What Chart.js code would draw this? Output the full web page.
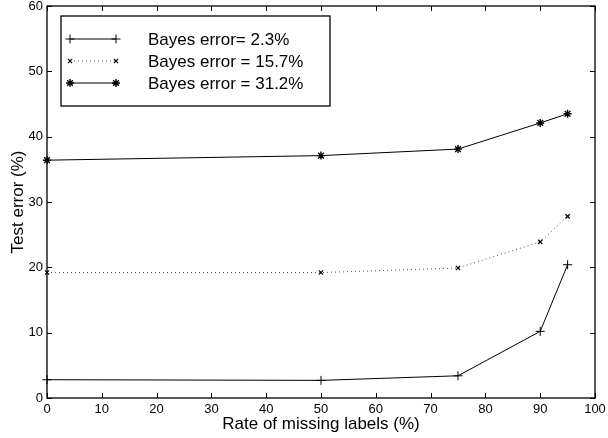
<!DOCTYPE html>
<html>
<head>
<meta charset="utf-8">
<script src="https://cdn.jsdelivr.net/npm/chart.js@4/dist/chart.umd.min.js"></script>
<style>
  html, body { margin: 0; padding: 0; background: #fff; }
  #wrap { width: 608px; height: 438px; }
</style>
</head>
<body>
<div id="wrap"><canvas id="c"></canvas></div>
<script>
// rate of missing labels (%)
const missingRates = [0, 50, 75, 90, 95]
const seriesLabels = ['Bayes error= 2.3%', 'Bayes error = 15.7%', 'Bayes error = 31.2%']
const bayes23 = [2.8, 2.7, 3.4, 10.2, 20.4]
const bayes157 = [19.2, 19.2, 19.9, 23.9, 27.8]
const bayes312 = [36.4, 37.1, 38.1, 42.1, 43.5]
const xTicks = [0, 10, 20, 30, 40, 50, 60, 70, 80, 90, 100]
const yTicks = [0, 10, 20, 30, 40, 50, 60]

const FONT = '"Liberation Sans", Arial, Helvetica, sans-serif'

function toPoints(ys) {
    return missingRates.map((x, i) => ({ x: x, y: ys[i] }))
}

// matlab style frame with inward ticks
const frame = {
    id: 'frame',
    afterDraw(chart) {
        const ctx = chart.ctx
        const a = chart.chartArea
        const xs = chart.scales.x, ys = chart.scales.y
        ctx.save()
        ctx.strokeStyle = '#000'
        ctx.lineWidth = 1.3
        ctx.strokeRect(a.left, a.top, a.right - a.left, a.bottom - a.top)
        ctx.lineWidth = 1
        ctx.beginPath()
        xTicks.forEach(v => {
            const px = Math.round(xs.getPixelForValue(v)) + 0.5
            ctx.moveTo(px, a.bottom); ctx.lineTo(px, a.bottom - 5)
            ctx.moveTo(px, a.top); ctx.lineTo(px, a.top + 5)
        })
        yTicks.forEach(v => {
            const py = Math.round(ys.getPixelForValue(v)) + 0.5
            ctx.moveTo(a.left, py); ctx.lineTo(a.left + 5, py)
            ctx.moveTo(a.right, py); ctx.lineTo(a.right - 5, py)
        })
        ctx.stroke()

        // legend box
        const bx = 61, by = 16, bw = 269, bh = 90
        ctx.fillStyle = '#fff'
        ctx.fillRect(bx, by, bw, bh)
        ctx.lineWidth = 1.3
        ctx.strokeRect(bx, by, bw, bh)
        chart.data.datasets.forEach((ds, i) => {
            const y = 39 + i * 22
            ctx.strokeStyle = ds.borderColor
            ctx.lineWidth = ds.borderWidth
            ctx.setLineDash(ds.borderDash || [])
            ctx.beginPath()
            ctx.moveTo(70, y); ctx.lineTo(116, y)
            ctx.stroke()
            ctx.setLineDash([])
            ctx.strokeStyle = '#000'
            ctx.fillStyle = '#000'
            ctx.lineWidth = ds.pointBorderWidth
            const opts = { pointStyle: ds.pointStyle, radius: ds.pointRadius, rotation: 0, borderWidth: ds.pointBorderWidth }
            Chart.helpers.drawPoint(ctx, opts, 70, y)
            Chart.helpers.drawPoint(ctx, opts, 116, y)
            ctx.fillStyle = '#000'
            ctx.font = '17px ' + FONT
            ctx.textBaseline = 'middle'
            ctx.textAlign = 'left'
            ctx.fillText(ds.label, 148, y + 1)
        })
        ctx.restore()
    }
}

function noPad(s) {
    s.paddingTop = 0; s.paddingBottom = 0; s.paddingLeft = 0; s.paddingRight = 0
}

new Chart(document.getElementById('c'), {
    type: 'line',
    data: {
        datasets: [
            { label: seriesLabels[0], data: toPoints(bayes23), borderColor: '#000', borderWidth: 1,
              pointStyle: 'cross', pointRadius: 4.5, pointBorderColor: '#000', pointBorderWidth: 1, clip: false },
            { label: seriesLabels[1], data: toPoints(bayes157), borderColor: '#555', borderWidth: 1, borderDash: [1, 3],
              pointStyle: 'crossRot', pointRadius: 3, pointBorderColor: '#000', pointBorderWidth: 1.2, clip: false },
            { label: seriesLabels[2], data: toPoints(bayes312), borderColor: '#000', borderWidth: 1,
              pointStyle: 'star', pointRadius: 4, pointBorderColor: '#000', pointBorderWidth: 1.4, clip: false }
        ]
    },
    options: {
        responsive: true,
        maintainAspectRatio: false,
        animation: false,
        layout: { padding: { top: 6, right: 13, left: 0, bottom: 0 } },
        plugins: { legend: { display: false }, tooltip: { enabled: false } },
        scales: {
            x: {
                type: 'linear', min: 0, max: 100,
                afterBuildTicks: s => { s.ticks = xTicks.map(v => ({ value: v })) },
                afterFit: s => { s.height = 40; noPad(s) },
                grid: { display: false, drawTicks: false }, border: { display: false },
                ticks: { color: '#000', padding: 4, font: { family: FONT, size: 13 }, maxRotation: 0 },
                title: { display: true, text: 'Rate of missing labels (%)', color: '#000',
                         font: { family: FONT, size: 17 }, padding: { top: 0, bottom: 3 } }
            },
            y: {
                min: 0, max: 60,
                afterBuildTicks: s => { s.ticks = yTicks.map(v => ({ value: v })) },
                afterFit: s => { s.width = 47; noPad(s) },
                grid: { display: false, drawTicks: false }, border: { display: false },
                ticks: { color: '#000', padding: 4, font: { family: FONT, size: 13 } },
                title: { display: true, text: 'Test error (%)', color: '#000',
                         font: { family: FONT, size: 17 }, padding: { top: 8, bottom: 0 } }
            }
        }
    },
    plugins: [frame]
})
</script>
</body>
</html>
